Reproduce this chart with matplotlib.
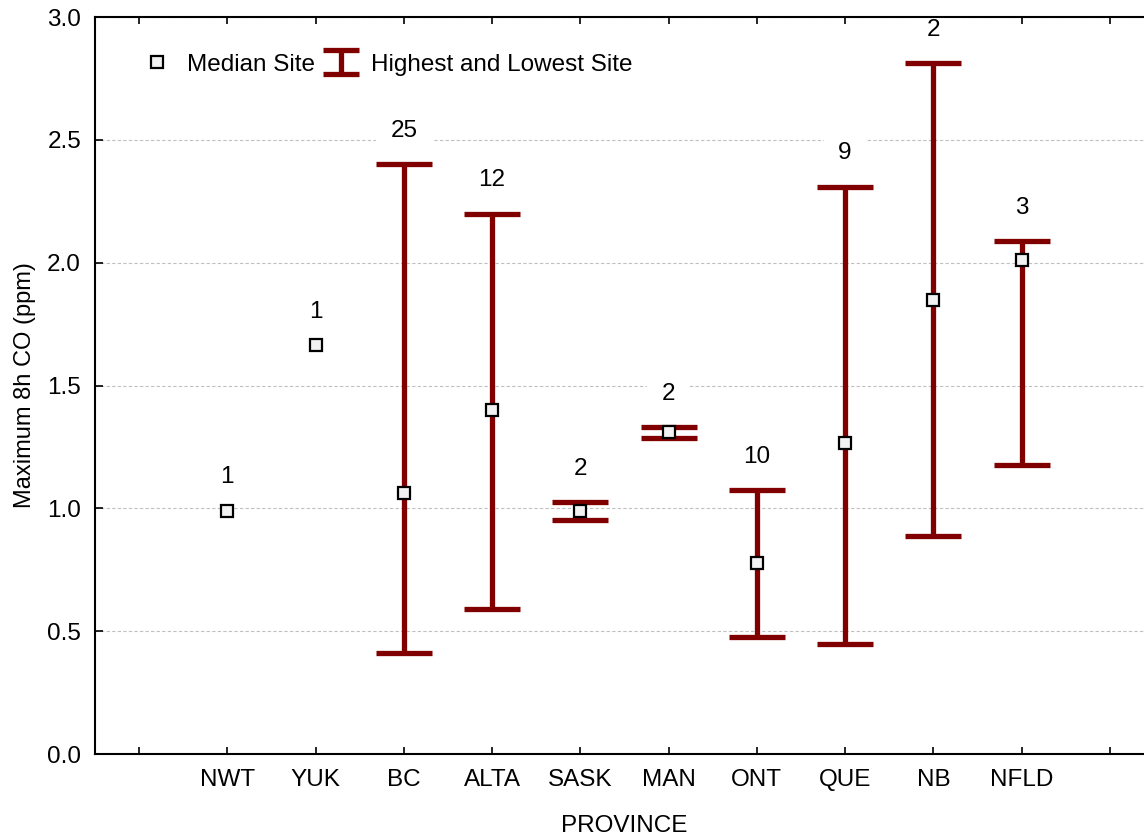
import matplotlib
matplotlib.use("Agg")
import matplotlib.pyplot as plt
from matplotlib.lines import Line2D

plt.rcParams['font.family'] = ['Liberation Sans', 'DejaVu Sans']

provinces = ["NWT", "YUK", "BC", "ALTA", "SASK", "MAN", "ONT", "QUE", "NB", "NFLD"]
median_site = [0.99, 1.665, 1.062, 1.40, 0.99, 1.31, 0.777, 1.266, 1.848, 2.011]
highest_site = [None, None, 2.40, 2.20, 1.026, 1.331, 1.075, 2.31, 2.812, 2.088]
lowest_site = [None, None, 0.41, 0.59, 0.952, 1.286, 0.476, 0.448, 0.887, 1.176]
site_counts = [1, 1, 25, 12, 2, 2, 10, 9, 2, 3]

bar_color = "#800000"

fig = plt.figure(figsize=(11.44, 8.39), dpi=100)
ax = fig.add_axes([0.0830, 0.1013, 0.9257, 0.8784])

xpos = list(range(1, len(provinces) + 1))

# grid
ax.set_ylim(0, 3.0)
ax.set_xlim(-0.5, 11.5)
ax.set_yticks([0.0, 0.5, 1.0, 1.5, 2.0, 2.5, 3.0])
ax.yaxis.grid(True, linestyle=(0, (3, 2)), color="#c0c0c0", linewidth=0.8, zorder=0)
ax.set_axisbelow(True)

# high/low range bars
for x, hi, lo in zip(xpos, highest_site, lowest_site):
    if hi is None:
        continue
    mid = (hi + lo) / 2
    ax.errorbar([x], [mid], yerr=[[mid - lo], [hi - mid]], fmt='none',
                ecolor=bar_color, elinewidth=3.8, capsize=20.5,
                capthick=3.8, zorder=3)

# medians
ax.plot(xpos, median_site, linestyle='none', marker='s', markersize=8,
        markerfacecolor="#f2f2f2", markeredgecolor="black",
        markeredgewidth=1.6, zorder=4)

# site counts above each province
for x, med, hi, n in zip(xpos, median_site, highest_site, site_counts):
    top = hi if hi is not None else med
    ax.annotate(str(n), xy=(x, top), xytext=(0, 24), textcoords='offset points',
                ha='center', va='center', fontsize=17.5, zorder=2,
                bbox=dict(boxstyle='square,pad=0.6', facecolor='white',
                          edgecolor='none'))

# ticks
ax.set_xticks(list(range(0, 12)))
ax.set_xticklabels([""] + provinces + [""])
ax.tick_params(axis='x', direction='in', length=5, width=1.2, top=True,
               labelsize=17.5, pad=11)
ax.tick_params(axis='y', direction='in', length=6, width=1.2, labelsize=17.5, pad=10)
ax.set_yticklabels(["0.0", "0.5", "1.0", "1.5", "2.0", "2.5", "3.0"])
for side in ['left', 'bottom', 'top']:
    ax.spines[side].set_linewidth(1.5)
ax.spines['right'].set_visible(False)

ax.set_xlabel("PROVINCE", fontsize=17.5, labelpad=17)
ax.set_ylabel("Maximum 8h CO (ppm)", fontsize=17, labelpad=8)

# legend
med_handle = Line2D([], [], linestyle='none', marker='s', markersize=8,
                    markerfacecolor="#f2f2f2", markeredgecolor="black",
                    markeredgewidth=1.6)
range_handle = ax.errorbar([float('nan')], [float('nan')], yerr=[[0.1], [0.1]],
                           fmt='none', ecolor=bar_color, elinewidth=3.8,
                           capsize=13, capthick=3.8)
ax.legend([med_handle, range_handle], ["Median Site", "Highest and Lowest Site"],
          loc='upper left', bbox_to_anchor=(0.02, 0.98), ncol=2, frameon=False,
          fontsize=17.5, handlelength=1.6, columnspacing=0.3, handletextpad=0.4)

fig.savefig("out.png", dpi=100)
